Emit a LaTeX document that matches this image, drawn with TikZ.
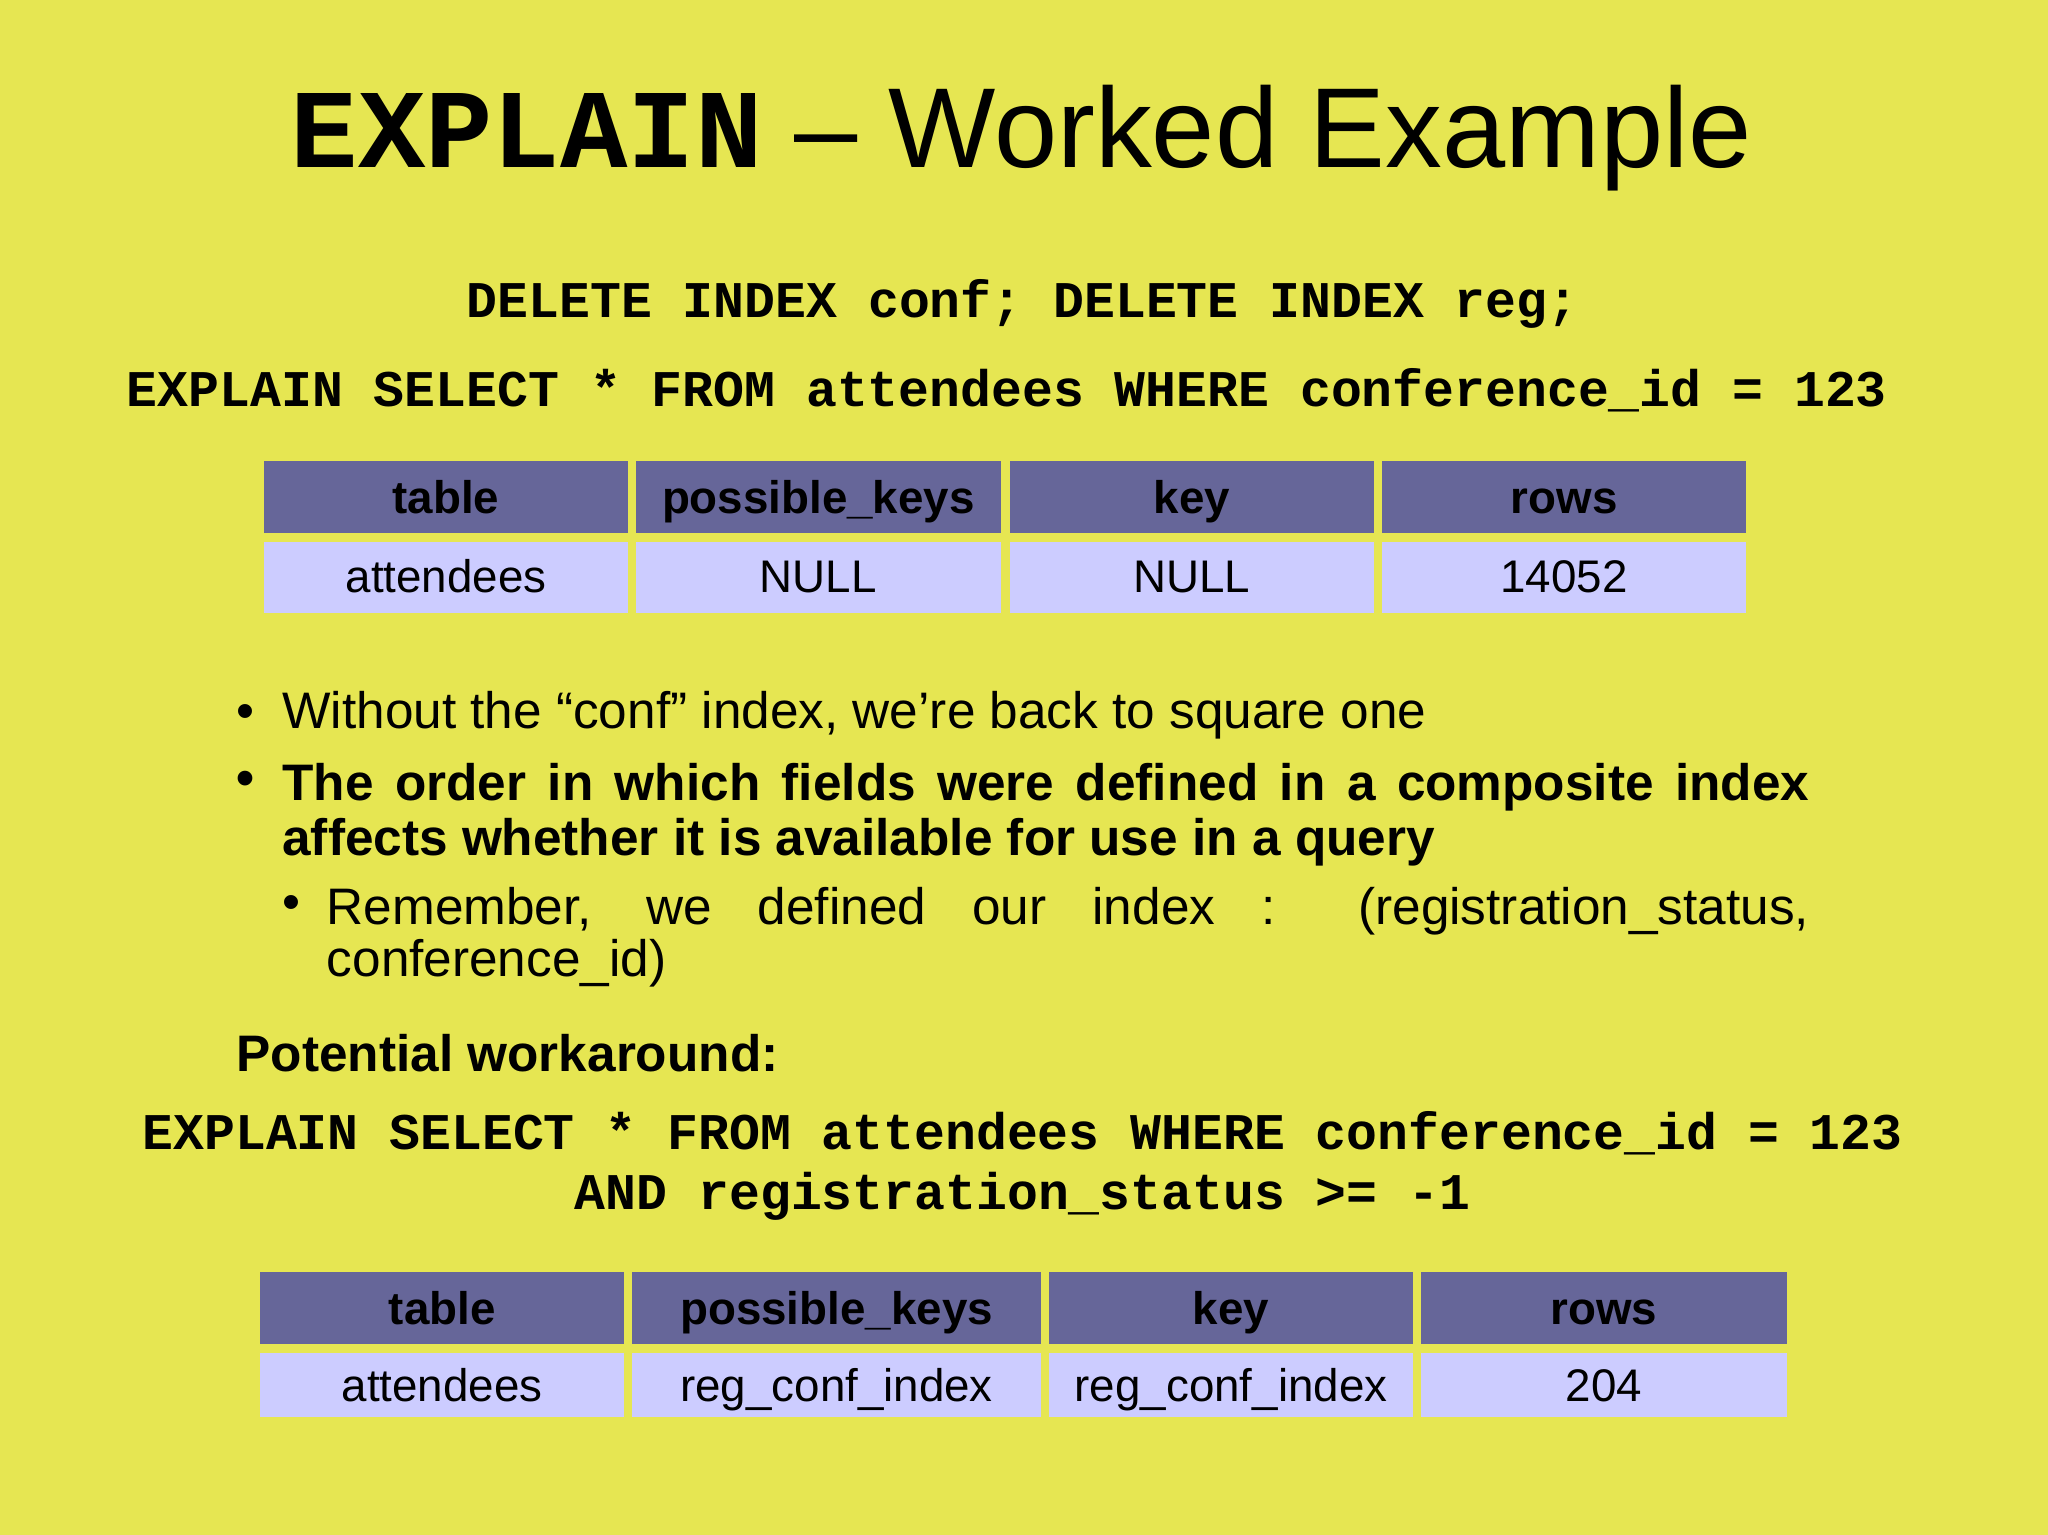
\documentclass[tikz,border=0pt]{standalone}
\usepackage{fontspec}
\setmainfont{Liberation Sans}
\newfontfamily\cmono{Liberation Mono}
\definecolor{bg}{RGB}{230,230,82}
\definecolor{hd}{RGB}{102,102,153}
\definecolor{rw}{RGB}{204,204,255}
\tikzset{
 code/.style={inner sep=0,anchor=base,font=\cmono\bfseries\fontsize{39.4}{44}\selectfont},
 txt/.style={inner sep=0,anchor=base west,font=\fontsize{39.3}{44}\selectfont},
 btxt/.style={inner sep=0,anchor=base west,font=\fontsize{39.3}{44}\selectfont\bfseries},
}
\newcommand{\jline}[2]{\parbox{#1}{\parfillskip=0pt\relax #2}}
\begin{document}
\begin{tikzpicture}[x=1pt,y=-1pt]
\fill[bg] (0,0) rectangle (1568,1175);
\useasboundingbox (0,0) rectangle (1568,1175);
\node[inner sep=0,anchor=base] (title) at (782,128) {{\cmono\bfseries\fontsize{86}{100}\selectfont EXPLAIN}{\fontsize{87}{100}\selectfont\ -- Worked Example}};
\node[code] (q1) at (783,243) {DELETE INDEX conf; DELETE INDEX reg;};
\node[code] (q2) at (771,311) {EXPLAIN SELECT * FROM attendees WHERE conference\_id = 123};
% table 1
\foreach \a/\b/\h/\r [count=\i] in {202/481/table/attendees,487/766/possible\_keys/NULL,773/1052/key/NULL,1058/1337/rows/14052}{
 \path[fill=hd] (\a,353) rectangle (\b,408);
 \path[fill=rw] (\a,415) rectangle (\b,469);
 \node[inner sep=0,anchor=base,font=\fontsize{35}{36}\selectfont\bfseries] (th\i) at ({(\a+\b)/2},393) {\h};
 \node[inner sep=0,anchor=base,font=\fontsize{35}{36}\selectfont] (td\i) at ({(\a+\b)/2},454) {\r};
}
\node[txt] (b1) at (181,558) {•};
\node[txt] (t1) at (216,558) {Without the “conf” index, we\char"0027 re back to square one};
\node[btxt] (b2) at (181,609) {•};
\node[btxt] (t2) at (216,609) {\jline{1169pt}{The order in which fields were defined in a composite index}};
\node[btxt] (t3) at (216,655) {affects whether it is available for use in a query};
\node[txt] (b3) at (216,704) {•};
\node[txt] (t4) at (250,704) {\jline{1135pt}{Remember, we defined our index : (registration\_status,}};
\node[txt] (t5) at (250,748) {conference\_id)};
\node[btxt] (pw) at (181,820) {Potential workaround:};
\node[code] (q3) at (783,880) {EXPLAIN SELECT * FROM attendees WHERE conference\_id = 123};
\node[code] (q4) at (783,926) {AND registration\_status >= -1};
% table 2
\foreach \a/\b/\h/\r [count=\i] in {199/478/table/attendees,484/797/possible\_keys/reg\_conf\_index,803/1082/key/reg\_conf\_index,1088/1368/rows/204}{
 \path[fill=hd] (\a,974) rectangle (\b,1029);
 \path[fill=rw] (\a,1036) rectangle (\b,1085);
 \node[inner sep=0,anchor=base,font=\fontsize{35}{36}\selectfont\bfseries] (uh\i) at ({(\a+\b)/2},1014) {\h};
 \node[inner sep=0,anchor=base,font=\fontsize{35}{36}\selectfont] (ud\i) at ({(\a+\b)/2},1073) {\r};
}
\end{tikzpicture}
\end{document}
